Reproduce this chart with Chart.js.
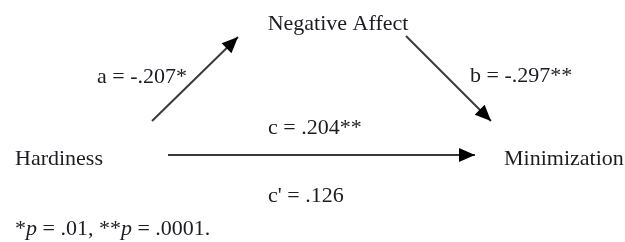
<!DOCTYPE html>
<html>
<head>
<meta charset="utf-8">
<script src="https://cdn.jsdelivr.net/npm/chart.js@4"></script>
<style>
  body { margin: 0; background: #fff; }
  canvas { display: block; }
</style>
</head>
<body>
<canvas id="mediation" width="625" height="242"></canvas>
<script>
// data
const variables = ['Hardiness', 'Negative Affect', 'Minimization'];
const paths = ['a', 'b', 'c', "c'"];
const coefficients = [-0.207, -0.297, 0.204, 0.126];
const stars = ['*', '**', '**', ''];
const pLevels = ['.01', '.0001'];

// layout (chart units, same as pixels here)
const nodeAt = [[15, 165, 'left'], [338, 30, 'center'], [504, 165, 'left']];
const arrowFrom = [[152, 121], [406, 36], [168, 155]];
const arrowTo = [[238, 37], [491, 121], [475, 155]];
const labelAt = [[97, 83], [470, 82], [268, 134], [268, 202]];

const FONT = '22px "Liberation Serif", "Times New Roman", serif';
const INK = '#1c1c22';

function fmt(v) {
    const s = Math.abs(v).toFixed(3).replace(/^0/, '');
    return (v < 0 ? '-' : '') + s;
}

const datasets = arrowFrom.map((p, i) => ({
    data: [{ x: p[0], y: p[1] }, { x: arrowTo[i][0], y: arrowTo[i][1] }],
    showLine: true,
    borderColor: '#3a3a3a',
    borderWidth: 2,
    pointRadius: 0
}));

const diagramPlugin = {
    id: 'diagram',
    afterDatasetsDraw(chart) {
        const c = chart.ctx;
        const xs = chart.scales.x, ys = chart.scales.y;
        c.save();
        // arrow heads
        chart.data.datasets.forEach((ds, i) => {
            const pts = chart.getDatasetMeta(i).data;
            const a = pts[0], b = pts[1];
            const ang = Math.atan2(b.y - a.y, b.x - a.x);
            const len = 16, half = 7;
            c.fillStyle = '#000';
            c.beginPath();
            c.moveTo(b.x, b.y);
            c.lineTo(b.x - len * Math.cos(ang) + half * Math.sin(ang), b.y - len * Math.sin(ang) - half * Math.cos(ang));
            c.lineTo(b.x - len * Math.cos(ang) - half * Math.sin(ang), b.y - len * Math.sin(ang) + half * Math.cos(ang));
            c.closePath();
            c.fill();
        });
        c.font = FONT;
        c.fillStyle = INK;
        c.textBaseline = 'alphabetic';
        // variable names
        variables.forEach((name, i) => {
            c.textAlign = nodeAt[i][2];
            c.fillText(name, xs.getPixelForValue(nodeAt[i][0]), ys.getPixelForValue(nodeAt[i][1]));
        });
        // path coefficients
        c.textAlign = 'left';
        paths.forEach((p, i) => {
            const txt = p + ' = ' + fmt(coefficients[i]) + stars[i];
            c.fillText(txt, xs.getPixelForValue(labelAt[i][0]), ys.getPixelForValue(labelAt[i][1]));
        });
        // footnote
        let x = xs.getPixelForValue(15);
        const y = ys.getPixelForValue(235);
        const parts = [];
        pLevels.forEach((p, i) => {
            parts.push(['*'.repeat(i + 1), false]);
            parts.push(['p', true]);
            parts.push([' = ' + p + (i < pLevels.length - 1 ? ', ' : '.'), false]);
        });
        parts.forEach(([t, ital]) => {
            c.font = (ital ? 'italic ' : '') + FONT;
            c.fillText(t, x, y);
            x += c.measureText(t).width;
        });
        c.restore();
    }
};

new Chart(document.getElementById('mediation'), {
    type: 'scatter',
    data: { datasets: datasets },
    options: {
        responsive: false,
        animation: false,
        layout: { padding: 0 },
        plugins: { legend: { display: false }, tooltip: { enabled: false } },
        scales: {
            x: { type: 'linear', min: 0, max: 625, display: false },
            y: { type: 'linear', min: 0, max: 242, reverse: true, display: false }
        }
    },
    plugins: [diagramPlugin]
});
</script>
</body>
</html>
